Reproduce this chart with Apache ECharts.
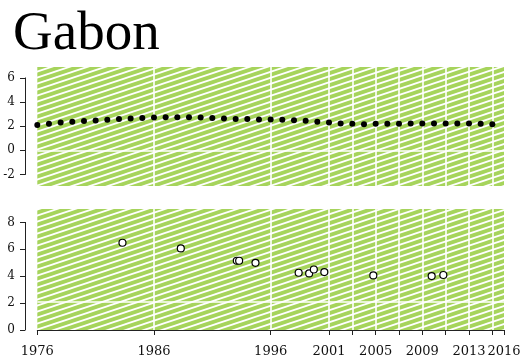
<!DOCTYPE html>
<html>
<head>
<meta charset="utf-8">
<script src="https://cdn.jsdelivr.net/npm/echarts@6/dist/echarts.min.js"></script>
<style>
  html, body { margin: 0; padding: 0; background: #fff; }
  #chart { width: 524px; height: 364px; }
</style>
</head>
<body>
<div id="chart"></div>
<script>
// Annual population growth rate (%), 1976-2015
const growthYears = [
  1976, 1977, 1978, 1979, 1980, 1981, 1982, 1983, 1984, 1985,
  1986, 1987, 1988, 1989, 1990, 1991, 1992, 1993, 1994, 1995,
  1996, 1997, 1998, 1999, 2000, 2001, 2002, 2003, 2004, 2005,
  2006, 2007, 2008, 2009, 2010, 2011, 2012, 2013, 2014, 2015
];
const growthRate = [
  2.09, 2.20, 2.31, 2.36, 2.42, 2.48, 2.53, 2.59, 2.64, 2.67,
  2.73, 2.75, 2.75, 2.75, 2.73, 2.67, 2.64, 2.60, 2.59, 2.56,
  2.56, 2.53, 2.50, 2.45, 2.36, 2.31, 2.23, 2.20, 2.17, 2.20,
  2.20, 2.20, 2.23, 2.23, 2.23, 2.23, 2.23, 2.23, 2.20, 2.17
];

// Survey estimates of total fertility (children per woman)
const fertilityYears = [1983.3, 1988.3, 1993.1, 1993.3, 1994.7, 1998.4, 1999.3, 1999.7, 2000.6, 2004.8, 2009.8, 2010.8];
const fertilityRate  = [6.49, 6.07, 5.15, 5.15, 5.00, 4.26, 4.21, 4.50, 4.31, 4.06, 4.01, 4.09];

// Reference lines
const gridYears = [1986, 1996, 2001, 2003, 2005, 2007, 2009, 2011, 2013, 2015];
const growthRefLine = 0;
const replacementLevel = 2.1;

// Axis ticks and labels
const xTickValues = [1976, 1986, 1996, 2001, 2003, 2005, 2007, 2009, 2011, 2013, 2015, 2016];
const xLabelValues = [1976, 1986, 1996, 2001, 2005, 2009, 2013, 2016];
const growthTicks = [-2, 0, 2, 4, 6];
const fertilityTicks = [0, 2, 4, 6, 8];

// Hatched green fill for the panels
function hatchPattern() {
  const w = 18, h = 6;
  const c = document.createElement('canvas');
  c.width = w; c.height = h;
  const g = c.getContext('2d');
  g.fillStyle = '#a6d45c';
  g.fillRect(0, 0, w, h);
  g.strokeStyle = '#ffffff';
  g.lineWidth = 1.8;
  for (let k = -1; k <= 1; k++) {
    g.beginPath();
    g.moveTo(-3, h + 1 + k * h);
    g.lineTo(w + 3, -1 + k * h);
    g.stroke();
  }
  return { image: c, repeat: 'repeat' };
}

const LEFT = 37.3, RIGHT = 20;
const SERIF = 'DejaVu Serif';
const AXIS_COLOR = '#222';

const hidden = { show: false };

function refLines(horiz) {
  return {
    silent: true,
    symbol: 'none',
    label: { show: false },
    lineStyle: { color: '#ffffff', width: 1.6, type: 'solid', opacity: 1 },
    emphasis: { disabled: true },
    data: gridYears.map(y => ({ xAxis: y })).concat([{ yAxis: horiz }])
  };
}

const chart = echarts.init(document.getElementById('chart'), null, { renderer: 'canvas' });
const pattern = hatchPattern();

chart.setOption({
  animation: false,
  backgroundColor: '#ffffff',
  title: {
    text: 'Gabon',
    left: 8,
    top: 2,
    textStyle: { fontFamily: 'Liberation Serif', fontSize: 55, fontWeight: 'normal', color: '#000' }
  },
  grid: [
    // hatched panels
    { left: LEFT, right: RIGHT, top: 67, height: 119, show: true, borderWidth: 0, backgroundColor: pattern },
    // growth axis
    { left: LEFT, right: RIGHT, top: 77.9, height: 96.6 },
    { left: LEFT, right: RIGHT, top: 209, height: 121, show: true, borderWidth: 0, backgroundColor: pattern },
    // fertility axis
    { left: LEFT, right: RIGHT, top: 222.4, height: 107.6 }
  ],
  xAxis: [
    { gridIndex: 0, type: 'value', min: 1976, max: 2016, show: false },
    { gridIndex: 1, type: 'value', min: 1976, max: 2016, show: false },
    { gridIndex: 2, type: 'value', min: 1976, max: 2016, show: false },
    {
      gridIndex: 3, type: 'value', min: 1976, max: 2016, position: 'bottom', offset: 5,
      axisLine: { show: true, lineStyle: { color: AXIS_COLOR, width: 1 } },
      axisTick: { show: true, length: 5, inside: false, customValues: xTickValues, lineStyle: { color: AXIS_COLOR } },
      axisLabel: {
        show: true, customValues: xLabelValues, margin: 10,
        showMinLabel: true, showMaxLabel: true, hideOverlap: false,
        formatter: v => String(v),
        fontFamily: SERIF, fontSize: 13, color: '#111'
      },
      splitLine: hidden
    }
  ],
  yAxis: [
    { gridIndex: 0, type: 'value', min: -2.95, max: 6.9, show: false },
    {
      gridIndex: 1, type: 'value', min: -2, max: 6, position: 'left', offset: 12.3,
      axisLine: { show: true, lineStyle: { color: AXIS_COLOR, width: 1 } },
      axisTick: { show: true, length: 5, customValues: growthTicks, lineStyle: { color: AXIS_COLOR } },
      axisLabel: { show: true, customValues: growthTicks, margin: 10, fontFamily: SERIF, fontSize: 12, color: '#111' },
      splitLine: hidden
    },
    { gridIndex: 2, type: 'value', min: 0, max: 9, show: false },
    {
      gridIndex: 3, type: 'value', min: 0, max: 8, position: 'left', offset: 12.3,
      axisLine: { show: true, lineStyle: { color: AXIS_COLOR, width: 1 } },
      axisTick: { show: true, length: 5, customValues: fertilityTicks, lineStyle: { color: AXIS_COLOR } },
      axisLabel: { show: true, customValues: fertilityTicks, margin: 10, fontFamily: SERIF, fontSize: 12, color: '#111' },
      splitLine: hidden
    }
  ],
  series: [
    {
      name: 'growth-ref', type: 'line', xAxisIndex: 0, yAxisIndex: 0, z: 1,
      data: [], silent: true, markLine: refLines(growthRefLine)
    },
    {
      name: 'Population growth', type: 'scatter', xAxisIndex: 0, yAxisIndex: 0, z: 5,
      symbol: 'circle', symbolSize: 6,
      itemStyle: { color: '#000', opacity: 1 },
      data: growthYears.map((y, i) => [y, growthRate[i]])
    },
    {
      name: 'fertility-ref', type: 'line', xAxisIndex: 2, yAxisIndex: 2, z: 1,
      data: [], silent: true, markLine: refLines(replacementLevel)
    },
    {
      name: 'Total fertility', type: 'scatter', xAxisIndex: 2, yAxisIndex: 2, z: 5,
      symbol: 'circle', symbolSize: 7,
      itemStyle: { color: '#fff', borderColor: '#000', borderWidth: 1.2, opacity: 1 },
      data: fertilityYears.map((y, i) => [y, fertilityRate[i]])
    }
  ]
});
</script>
</body>
</html>
